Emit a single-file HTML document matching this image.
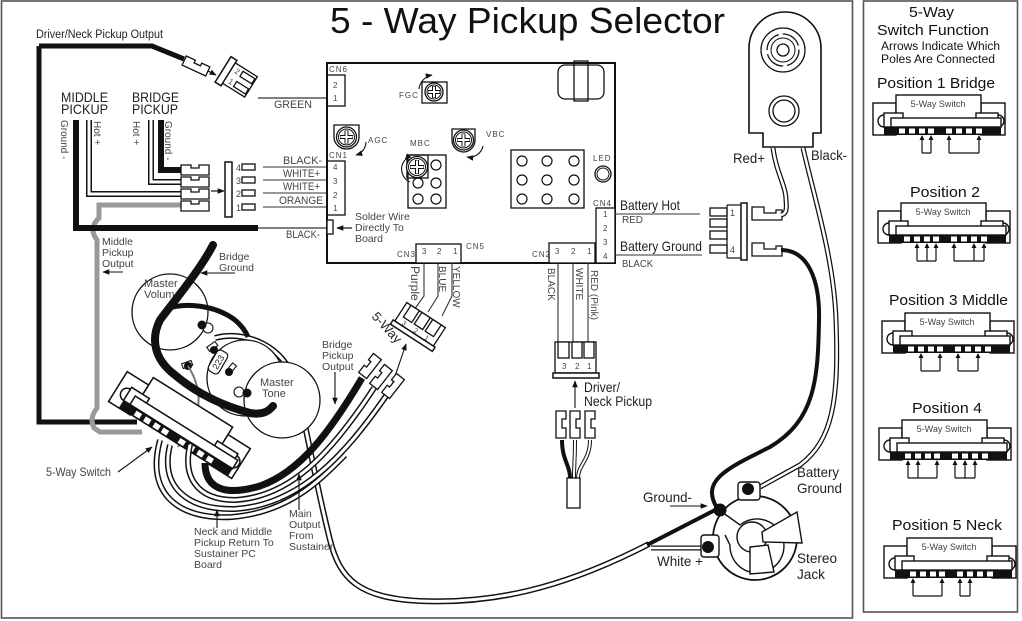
<!DOCTYPE html>
<html><head><meta charset="utf-8">
<style>
html,body{margin:0;padding:0;background:#fff;}
svg{display:block;font-family:"Liberation Sans",Arial,sans-serif;}
.k{fill:none;stroke:#111;}
.wo{fill:none;stroke:#111;stroke-width:6;stroke-linecap:butt;}
.wi{fill:none;stroke:#fff;stroke-width:3;}
.t{fill:#222;}
.g{fill:#444;}
</style></head><body>
<svg width="1022" height="621" viewBox="0 0 1022 621" xmlns="http://www.w3.org/2000/svg">
<defs>
<marker id="ah" viewBox="0 0 10 10" refX="9" refY="5" markerWidth="7" markerHeight="7" orient="auto" markerUnits="userSpaceOnUse"><path d="M0,1 L10,5 L0,9 z" fill="#111"/></marker>
<g id="sw">
<rect x="2" y="8" width="23" height="32" fill="#fff" stroke="#111" stroke-width="1.4"/>
<rect x="110" y="8" width="24" height="32" fill="#fff" stroke="#111" stroke-width="1.4"/>
<rect x="25" y="0" width="85" height="24" fill="#fff" stroke="#111" stroke-width="1.4"/>
<path d="M13,20 A6,6 0 0 0 13,32" fill="#fff" stroke="#111" stroke-width="1.4"/>
<path d="M127,20 A6,6 0 0 1 127,32" fill="#fff" stroke="#111" stroke-width="1.4"/>
<rect x="13" y="18" width="19" height="14" fill="#fff" stroke="#111" stroke-width="1.4"/>
<rect x="105" y="18" width="22" height="14" fill="#fff" stroke="#111" stroke-width="1.4"/>
<rect x="20" y="23" width="110" height="9" fill="#fff" stroke="#111" stroke-width="1.4"/>
<rect x="13" y="32" width="117" height="8" fill="#111"/>
<g fill="#fff"><rect x="28" y="33.5" width="6" height="5"/><rect x="38" y="33.5" width="6" height="5"/><rect x="48" y="33.5" width="6" height="5"/><rect x="57" y="33.5" width="6" height="5"/><rect x="75" y="33.5" width="6" height="5"/><rect x="85" y="33.5" width="6" height="5"/><rect x="95" y="33.5" width="6" height="5"/><rect x="105" y="33.5" width="6" height="5"/></g>
</g>
</defs>

<!-- frames -->
<rect x="1.5" y="1" width="851" height="617" fill="none" stroke="#555" stroke-width="1.6"/>
<rect x="863.5" y="1" width="154" height="611" fill="none" stroke="#555" stroke-width="1.6"/>

<!-- title -->
<text x="330" y="33" font-size="36" textLength="395" lengthAdjust="spacingAndGlyphs" fill="#111">5 - Way Pickup Selector</text>

<!-- ===== RIGHT PANEL ===== -->
<g fill="#111">
<text x="909" y="17" font-size="15" textLength="45" lengthAdjust="spacingAndGlyphs">5-Way</text>
<text x="877" y="35" font-size="15" textLength="112" lengthAdjust="spacingAndGlyphs">Switch Function</text>
<text x="881" y="50" font-size="11.5" textLength="119" lengthAdjust="spacingAndGlyphs">Arrows Indicate Which</text>
<text x="881" y="63" font-size="11.5" textLength="114" lengthAdjust="spacingAndGlyphs">Poles Are Connected</text>
<text x="877" y="88" font-size="14.5" textLength="118" lengthAdjust="spacingAndGlyphs">Position 1 Bridge</text>
<text x="910" y="197" font-size="14.5" textLength="70" lengthAdjust="spacingAndGlyphs">Position 2</text>
<text x="889" y="305" font-size="14.5" textLength="119" lengthAdjust="spacingAndGlyphs">Position 3 Middle</text>
<text x="912" y="413" font-size="14.5" textLength="70" lengthAdjust="spacingAndGlyphs">Position 4</text>
<text x="892" y="530" font-size="14.5" textLength="110" lengthAdjust="spacingAndGlyphs">Position 5 Neck</text>
</g>

<!-- Pos1 -->
<g transform="translate(871,95)">
<use href="#sw"/>
<text x="67" y="12" font-size="9" text-anchor="middle" class="g">5-Way Switch</text>
<g stroke="#111" stroke-width="1.2" fill="none"><path d="M51,58 V42 M60,58 V42 M51,58 H60 M78,58 V42 M108,58 V42 M78,58 H108"/></g>
<g fill="#111"><path d="M51,40 l-2.5,5 h5z M60,40 l-2.5,5 h5z M78,40 l-2.5,5 h5z M108,40 l-2.5,5 h5z"/></g>
</g>
<!-- Pos2 -->
<g transform="translate(876,203)">
<use href="#sw"/>
<text x="67" y="12" font-size="9" text-anchor="middle" class="g">5-Way Switch</text>
<g stroke="#111" stroke-width="1.2" fill="none"><path d="M41,58 V42 M51,58 V42 M60,58 V42 M41,58 H60 M78,58 V42 M98,58 V42 M108,58 V42 M78,58 H108"/></g>
<g fill="#111"><path d="M41,40 l-2.5,5 h5z M51,40 l-2.5,5 h5z M60,40 l-2.5,5 h5z M78,40 l-2.5,5 h5z M98,40 l-2.5,5 h5z M108,40 l-2.5,5 h5z"/></g>
</g>
<!-- Pos3 -->
<g transform="translate(880,313)">
<use href="#sw"/>
<text x="67" y="12" font-size="9" text-anchor="middle" class="g">5-Way Switch</text>
<g stroke="#111" stroke-width="1.2" fill="none"><path d="M41,58 V42 M60,58 V42 M41,58 H60 M78,58 V42 M98,58 V42 M78,58 H98"/></g>
<g fill="#111"><path d="M41,40 l-2.5,5 h5z M60,40 l-2.5,5 h5z M78,40 l-2.5,5 h5z M98,40 l-2.5,5 h5z"/></g>
</g>
<!-- Pos4 -->
<g transform="translate(877,420)">
<use href="#sw"/>
<text x="67" y="12" font-size="9" text-anchor="middle" class="g">5-Way Switch</text>
<g stroke="#111" stroke-width="1.2" fill="none"><path d="M31,58 V42 M41,58 V42 M60,58 V42 M31,58 H60 M78,58 V42 M88,58 V42 M98,58 V42 M78,58 H98"/></g>
<g fill="#111"><path d="M31,40 l-2.5,5 h5z M41,40 l-2.5,5 h5z M60,40 l-2.5,5 h5z M78,40 l-2.5,5 h5z M88,40 l-2.5,5 h5z M98,40 l-2.5,5 h5z"/></g>
</g>
<!-- Pos5 -->
<g transform="translate(882,538)">
<use href="#sw"/>
<text x="67" y="12" font-size="9" text-anchor="middle" class="g">5-Way Switch</text>
<g stroke="#111" stroke-width="1.2" fill="none"><path d="M31,58 V42 M60,58 V42 M31,58 H60 M78,58 V42 M88,58 V42 M78,58 H88"/></g>
<g fill="#111"><path d="M31,40 l-2.5,5 h5z M60,40 l-2.5,5 h5z M78,40 l-2.5,5 h5z M88,40 l-2.5,5 h5z"/></g>
</g>

<!-- ===== MAIN: top-left ===== -->
<text x="36" y="38" font-size="11.5" textLength="127" lengthAdjust="spacingAndGlyphs" class="t">Driver/Neck Pickup Output</text>
<path d="M39,46 V422 H137" fill="none" stroke="#111" stroke-width="5"/>
<path d="M39,46 H152 L184,59" fill="none" stroke="#111" stroke-width="5"/>
<!-- terminal to CN6 plug -->
<g transform="translate(196,66) rotate(25)">
<path d="M-13,-5 H-3 V-2 H4 V-5 H13 V5 H-13 Z" fill="#fff" stroke="#111" stroke-width="1.3"/>
</g>
<path d="M208,71 L216,75" stroke="#111" stroke-width="1.2" marker-end="url(#ah)"/>
<g transform="translate(240,80) rotate(32)">
<rect x="-20" y="-15" width="7" height="30" fill="#fff" stroke="#111" stroke-width="1.5"/>
<rect x="-13" y="-12" width="26" height="24" fill="#fff" stroke="#111" stroke-width="1.3"/>
<rect x="-2" y="-9" width="14" height="6" fill="#fff" stroke="#111" stroke-width="1.3"/>
<rect x="-2" y="3" width="14" height="6" fill="#fff" stroke="#111" stroke-width="1.3"/>
<text x="-9" y="-3" font-size="8" class="g">2</text>
<text x="-9" y="9" font-size="8" class="g">1</text>
</g>
<line x1="258" y1="98" x2="327" y2="98" stroke="#333" stroke-width="1.2"/>
<text x="274" y="108" font-size="11" textLength="38" lengthAdjust="spacingAndGlyphs" class="g">GREEN</text>

<!-- pickup labels -->
<g class="t" font-size="14">
<text x="61" y="102" textLength="47" lengthAdjust="spacingAndGlyphs">MIDDLE</text>
<text x="61" y="114" textLength="47" lengthAdjust="spacingAndGlyphs">PICKUP</text>
<text x="132" y="102" textLength="47" lengthAdjust="spacingAndGlyphs">BRIDGE</text>
<text x="132" y="114" textLength="46" lengthAdjust="spacingAndGlyphs">PICKUP</text>
</g>
<g class="g" font-size="10">
<text transform="translate(61,120) rotate(90)">Ground -</text>
<text transform="translate(94,121) rotate(90)">Hot +</text>
<text transform="translate(133,121) rotate(90)">Hot +</text>
<text transform="translate(165,121) rotate(90)">Ground -</text>
</g>

<!-- gray middle pickup output -->
<path d="M181,205 H99 V218 Q88,228 97,240 V408 Q89,418 94,428 L100,432 H142" fill="none" stroke="#999" stroke-width="5"/>
<!-- middle ground black -->
<path d="M76,120 V228 H258" fill="none" stroke="#111" stroke-width="6"/>
<line x1="258" y1="228" x2="327" y2="228" stroke="#333" stroke-width="1.2"/>
<!-- middle hot -->
<path class="wo" d="M89,120 V194 H181"/><path class="wi" d="M89,120 V194 H181"/>
<!-- bridge hot -->
<path class="wo" d="M151,120 V182 H181"/><path class="wi" d="M151,120 V182 H181"/>
<!-- bridge ground -->
<path d="M161,120 V170 H181" fill="none" stroke="#111" stroke-width="6"/>
<!-- 4 terminals -->
<g fill="#fff" stroke="#111" stroke-width="1.3">
<path d="M181,165 H191 V168 H199 V165 H209 V175 H181 Z"/>
<path d="M181,177 H191 V180 H199 V177 H209 V187 H181 Z"/>
<path d="M181,189 H191 V192 H199 V189 H209 V199 H181 Z"/>
<path d="M181,201 H191 V204 H199 V201 H209 V211 H181 Z"/>
</g>
<path d="M211,191 H224" stroke="#111" stroke-width="1.2" marker-end="url(#ah)"/>
<!-- CN1 plug -->
<rect x="225" y="162" width="7" height="55" fill="#fff" stroke="#111" stroke-width="1.5"/>
<line x1="232" y1="162" x2="232" y2="217" stroke="#111"/>
<g fill="#fff" stroke="#111" stroke-width="1.3">
<rect x="242" y="164" width="13" height="6"/><rect x="242" y="177" width="13" height="6"/><rect x="242" y="190" width="13" height="6"/><rect x="242" y="204" width="13" height="6"/>
</g>
<g class="g" font-size="9"><text x="236" y="171">4</text><text x="236" y="184">3</text><text x="236" y="197">2</text><text x="236" y="211">1</text></g>
<g stroke="#333" stroke-width="1.1"><line x1="263" y1="167" x2="327" y2="167"/><line x1="263" y1="180" x2="327" y2="180"/><line x1="263" y1="193" x2="327" y2="193"/><line x1="263" y1="207" x2="327" y2="207"/></g>
<g class="g" font-size="11">
<text x="283" y="164" textLength="39" lengthAdjust="spacingAndGlyphs">BLACK-</text>
<text x="283" y="177" textLength="37" lengthAdjust="spacingAndGlyphs">WHITE+</text>
<text x="283" y="190" textLength="37" lengthAdjust="spacingAndGlyphs">WHITE+</text>
<text x="279" y="204" textLength="44" lengthAdjust="spacingAndGlyphs">ORANGE</text>
<text x="286" y="238" textLength="34" lengthAdjust="spacingAndGlyphs">BLACK-</text>
</g>

<!-- ===== BOARD ===== -->
<rect x="327" y="63" width="288" height="200" fill="#fff" stroke="#111" stroke-width="2"/>
<g class="g" font-size="8" letter-spacing="1">
<text x="329" y="72">CN6</text><text x="329" y="158">CN1</text>
<text x="397" y="257">CN3</text><text x="466" y="249">CN5</text>
<text x="532" y="257">CN2</text><text x="593" y="206">CN4</text>
<text x="593" y="161">LED</text>
<text x="399" y="98">FGC</text><text x="368" y="143">AGC</text><text x="410" y="146">MBC</text><text x="486" y="137">VBC</text>
</g>
<rect x="327" y="75" width="18" height="31" fill="none" stroke="#111" stroke-width="1.3"/>
<g class="g" font-size="8"><text x="333" y="88">2</text><text x="333" y="101">1</text></g>
<rect x="327" y="161" width="18" height="54" fill="none" stroke="#111" stroke-width="1.3"/>
<g class="g" font-size="8"><text x="333" y="170">4</text><text x="333" y="184">3</text><text x="333" y="198">2</text><text x="333" y="211">1</text></g>
<rect x="327" y="220" width="6" height="14" fill="#fff" stroke="#111" stroke-width="1.3"/>
<path d="M352,228 H337" stroke="#111" stroke-width="1.2" marker-end="url(#ah)"/>
<g class="g" font-size="10.5"><text x="355" y="220">Solder Wire</text><text x="355" y="231">Directly To</text><text x="355" y="242">Board</text></g>

<!-- FGC -->
<rect x="422" y="82" width="25" height="21" fill="#fff" stroke="#111" stroke-width="1.3"/>
<circle cx="434" cy="92" r="9" fill="#fff" stroke="#111" stroke-width="1.3"/><circle cx="434" cy="92" r="7" fill="none" stroke="#111"/>
<path d="M428,92 H440 M434,86 V98" stroke="#111" stroke-width="4"/><path d="M428.5,92 H439.5 M434,86.5 V97.5" stroke="#fff" stroke-width="2"/>
<path d="M419,89 A16,16 0 0 1 432,75" fill="none" stroke="#111" stroke-width="1.1" marker-end="url(#ah)"/>
<!-- AGC -->
<path d="M334,125 H359 V137 A12.5,12 0 0 1 334,137 Z" fill="#fff" stroke="#111" stroke-width="1.3"/>
<circle cx="346.5" cy="137" r="10" fill="#fff" stroke="#111" stroke-width="1.3"/><circle cx="346.5" cy="137" r="8" fill="none" stroke="#111"/>
<path d="M340,137 H353 M346.5,130.5 V143.5" stroke="#111" stroke-width="4"/><path d="M340.5,137 H352.5 M346.5,131 V143" stroke="#fff" stroke-width="2"/>
<path d="M366,142 A14,14 0 0 1 356,155" fill="none" stroke="#111" stroke-width="1.1" marker-end="url(#ah)"/>
<!-- MBC -->
<rect x="408" y="155" width="38" height="53" fill="#fff" stroke="#111" stroke-width="1.3"/>
<g fill="#fff" stroke="#111" stroke-width="1.2"><circle cx="418" cy="183" r="5"/><circle cx="418" cy="199" r="5"/><circle cx="436" cy="165" r="5"/><circle cx="436" cy="183" r="5"/><circle cx="436" cy="199" r="5"/></g>
<rect x="407" y="155" width="21" height="23" fill="none" stroke="#111" stroke-width="1.3"/>
<circle cx="417" cy="167" r="10.5" fill="#fff" stroke="#111" stroke-width="1.3"/><circle cx="417" cy="167" r="8.5" fill="none" stroke="#111"/>
<path d="M410,167 H424 M417,160 V174" stroke="#111" stroke-width="4"/><path d="M410.5,167 H423.5 M417,160.5 V173.5" stroke="#fff" stroke-width="2"/>
<path d="M405,160 A14,14 0 0 0 410,182" fill="none" stroke="#111" stroke-width="1.1" marker-start="url(#ah)"/>
<!-- VBC -->
<path d="M452,129 H475 V140 A11.5,12 0 0 1 452,140 Z" fill="#fff" stroke="#111" stroke-width="1.3"/>
<circle cx="463.5" cy="140" r="10" fill="#fff" stroke="#111" stroke-width="1.3"/><circle cx="463.5" cy="140" r="8" fill="none" stroke="#111"/>
<path d="M457,140 H470 M463.5,133.5 V146.5" stroke="#111" stroke-width="4"/><path d="M457.5,140 H469.5 M463.5,134 V146" stroke="#fff" stroke-width="2"/>
<path d="M483,146 A14,14 0 0 1 467,157" fill="none" stroke="#111" stroke-width="1.1" marker-end="url(#ah)"/>
<!-- big grid -->
<rect x="511" y="150" width="73" height="58" fill="#fff" stroke="#111" stroke-width="1.3"/>
<g fill="#fff" stroke="#111" stroke-width="1.2">
<circle cx="522" cy="161" r="5"/><circle cx="547" cy="161" r="5"/><circle cx="574" cy="161" r="5"/>
<circle cx="522" cy="180" r="5"/><circle cx="547" cy="180" r="5"/><circle cx="574" cy="180" r="5"/>
<circle cx="522" cy="199" r="5"/><circle cx="547" cy="199" r="5"/><circle cx="574" cy="199" r="5"/>
</g>
<!-- LED -->
<circle cx="603" cy="174" r="8" fill="#fff" stroke="#111" stroke-width="1.3"/><circle cx="603" cy="174" r="6" fill="none" stroke="#111"/>
<!-- top right component -->
<rect x="558" y="65" width="46" height="34" rx="7" fill="#fff" stroke="#111" stroke-width="1.3"/>
<rect x="574" y="61" width="14" height="40" fill="none" stroke="#111" stroke-width="1.3"/>
<!-- CN3/5 -->
<rect x="416" y="244" width="45" height="19" fill="#fff" stroke="#111" stroke-width="1.3"/>
<g class="g" font-size="8"><text x="422" y="254">3</text><text x="437" y="254">2</text><text x="453" y="254">1</text></g>
<!-- CN2 -->
<rect x="549" y="243" width="46" height="20" fill="#fff" stroke="#111" stroke-width="1.3"/>
<g class="g" font-size="8"><text x="555" y="254">3</text><text x="571" y="254">2</text><text x="587" y="254">1</text></g>
<!-- CN4 -->
<rect x="596" y="208" width="19" height="55" fill="#fff" stroke="#111" stroke-width="1.3"/>
<g class="g" font-size="8"><text x="603" y="217">1</text><text x="603" y="231">2</text><text x="603" y="245">3</text><text x="603" y="259">4</text></g>

<!-- battery hot/ground labels -->
<line x1="615" y1="214" x2="700" y2="214" stroke="#333" stroke-width="1.1"/>
<line x1="615" y1="255" x2="702" y2="255" stroke="#333" stroke-width="1.1"/>
<g class="t" font-size="14">
<text x="620" y="210" textLength="60" lengthAdjust="spacingAndGlyphs">Battery Hot</text>
<text x="620" y="251" textLength="82" lengthAdjust="spacingAndGlyphs">Battery Ground</text>
</g>
<g class="g" font-size="10"><text x="622" y="223" textLength="21" lengthAdjust="spacingAndGlyphs">RED</text><text x="622" y="267" textLength="31" lengthAdjust="spacingAndGlyphs">BLACK</text></g>
<!-- battery plug -->
<g fill="#fff" stroke="#111" stroke-width="1.3">
<rect x="710" y="208" width="17" height="8"/><rect x="710" y="219" width="17" height="8"/><rect x="710" y="231" width="17" height="8"/><rect x="710" y="245" width="17" height="8"/>
<rect x="741" y="203" width="6" height="57" stroke-width="1.5"/>
</g>
<line x1="727" y1="205" x2="727" y2="258" stroke="#111" stroke-width="1.2"/>
<line x1="727" y1="205" x2="741" y2="205" stroke="#111" stroke-width="1.2"/>
<line x1="727" y1="258" x2="741" y2="258" stroke="#111" stroke-width="1.2"/>
<g class="g" font-size="9"><text x="730" y="216">1</text><text x="730" y="253">4</text></g>
<g fill="#fff" stroke="#111" stroke-width="1.3">
<path d="M752,207 H764 V213 H776 V210 H782 V220 H752 Z"/>
<path d="M752,243 H764 V249 H776 V246 H782 V256 H752 Z"/>
</g>

<!-- battery clip -->
<path d="M749,133 V48 A36,36 0 0 1 821,48 V133 H813 V147 H763 V133 Z" fill="#fff" stroke="#111" stroke-width="1.6"/>
<circle cx="783" cy="50" r="22" fill="#fff" stroke="#111" stroke-width="1.3"/>
<circle cx="783" cy="50" r="16" fill="none" stroke="#111" stroke-width="1.3" stroke-dasharray="21 4"/>
<circle cx="783" cy="50" r="12" fill="none" stroke="#111" stroke-width="1"/>
<circle cx="783" cy="50" r="6" fill="#fff" stroke="#111" stroke-width="1.3"/>
<circle cx="784" cy="111" r="15" fill="#fff" stroke="#111" stroke-width="1.3"/>
<circle cx="784" cy="111" r="11" fill="none" stroke="#111" stroke-width="1.3"/>
<!-- red+ wire -->
<path class="wo" style="stroke-width:5" d="M773,148 C776,172 786,186 786,200 C787,210 786,214 781,215"/>
<path class="wi" style="stroke-width:2.5" d="M773,148 C776,172 786,186 786,200 C787,210 786,214 781,215"/>
<!-- black- wire (white double) -->
<path class="wo" style="stroke-width:5" d="M803,148 C815,200 834,260 836,320 C839,400 833,440 800,465 L760,487"/>
<path class="wi" style="stroke-width:2.5" d="M803,148 C815,200 834,260 836,320 C839,400 833,440 800,465 L760,487"/>
<g class="t" font-size="14">
<text x="733" y="163" textLength="32" lengthAdjust="spacingAndGlyphs">Red+</text>
<text x="811" y="160" textLength="36" lengthAdjust="spacingAndGlyphs">Black-</text>
</g>
<!-- black thick wire to jack ground -->
<path d="M781,250 C808,250 820,280 819,320 C818,380 815,420 770,447 C728,468 700,480 717,508" fill="none" stroke="#111" stroke-width="4"/>

<!-- main output white wire -->
<path class="wo" d="M215,338 C245,330 285,345 296,385 C305,420 315,480 330,540 C340,580 360,598 420,601 C490,604 560,590 649,544"/>
<path class="wi" d="M215,338 C245,330 285,345 296,385 C305,420 315,480 330,540 C340,580 360,598 420,601 C490,604 560,590 649,544"/>
<path d="M647,545 L719,508" stroke="#111" stroke-width="4"/>
<path class="wo" style="stroke-width:5" d="M651,548 H705"/><path class="wi" style="stroke-width:2.5" d="M651,548 H705"/>

<!-- stereo jack -->
<circle cx="755" cy="538" r="42" fill="#fff" stroke="#111" stroke-width="1.8"/>
<path d="M722,512 L740,525 A27,27 0 1 1 730,545 L725,535" fill="none" stroke="#111" stroke-width="1.4"/>
<circle cx="752" cy="537" r="15" fill="#fff" stroke="#111" stroke-width="1.4"/>
<polygon points="762,532 797,512 802,543 763,542" fill="#fff" stroke="#111" stroke-width="1.4"/>
<polygon points="750,547 768,545 774,572 750,574" fill="#fff" stroke="#111" stroke-width="1.4"/>
<rect x="738" y="482" width="22" height="18" rx="3" fill="#fff" stroke="#111" stroke-width="1.4"/>
<circle cx="748" cy="489" r="6" fill="#111"/>
<rect x="701" y="535" width="18" height="22" rx="3" fill="#fff" stroke="#111" stroke-width="1.4"/>
<circle cx="708" cy="547" r="6" fill="#111"/>
<circle cx="720" cy="510" r="6.5" fill="#111"/>
<g class="t" font-size="14">
<text x="643" y="502" textLength="49" lengthAdjust="spacingAndGlyphs">Ground-</text>
<text x="657" y="566" textLength="46" lengthAdjust="spacingAndGlyphs">White +</text>
<text x="797" y="477" textLength="42" lengthAdjust="spacingAndGlyphs">Battery</text>
<text x="797" y="493" textLength="45" lengthAdjust="spacingAndGlyphs">Ground</text>
<text x="797" y="563" textLength="40" lengthAdjust="spacingAndGlyphs">Stereo</text>
<text x="797" y="579" textLength="28" lengthAdjust="spacingAndGlyphs">Jack</text>
</g>
<path d="M670,506 H707" stroke="#111" stroke-width="1.1" marker-end="url(#ah)"/>

<!-- CN3 wires -->
<g stroke="#333" stroke-width="1.1" fill="none">
<path d="M424,263 V296 L414,310"/><path d="M438,263 V296 L428,312"/><path d="M452,263 V296 L442,316"/>
</g>
<g class="g" font-size="10">
<text transform="translate(411,266) rotate(90)" font-size="12">Purple</text>
<text transform="translate(439,266) rotate(90)">BLUE</text>
<text transform="translate(453,266) rotate(90)">YELLOW</text>
</g>
<!-- 5-way connector -->
<g transform="translate(419,326) rotate(33)">
<rect x="-23" y="-13" width="46" height="22" fill="#fff" stroke="#111" stroke-width="1.3"/>
<rect x="-25" y="9" width="50" height="5" fill="#fff" stroke="#111" stroke-width="1.5"/>
<g fill="#fff" stroke="#111" stroke-width="1.3"><rect x="-18" y="-13" width="10" height="14"/><rect x="-5" y="-13" width="10" height="14"/><rect x="8" y="-13" width="10" height="14"/></g>
<g class="g" font-size="7"><text x="-16" y="8">3</text><text x="-2" y="8">2</text><text x="11" y="8">1</text></g>
</g>
<text transform="translate(371,317) rotate(47)" font-size="13" class="t">5-Way</text>
<path d="M390,391 L406,344" stroke="#111" stroke-width="1.1" marker-end="url(#ah)"/>

<!-- CN2 wires + driver plug -->
<g stroke="#333" stroke-width="1.1"><line x1="558" y1="263" x2="558" y2="342"/><line x1="573" y1="263" x2="573" y2="342"/><line x1="588" y1="263" x2="588" y2="342"/></g>
<g class="g" font-size="10">
<text transform="translate(548,268) rotate(90)">BLACK</text>
<text transform="translate(576,268) rotate(90)">WHITE</text>
<text transform="translate(591,270) rotate(90)">RED (Pink)</text>
</g>
<rect x="555" y="342" width="41" height="31" fill="#fff" stroke="#111" stroke-width="1.3"/>
<g fill="#fff" stroke="#111" stroke-width="1.3"><rect x="558" y="342" width="11" height="16"/><rect x="572" y="342" width="10" height="16"/><rect x="584" y="342" width="10" height="16"/></g>
<g class="g" font-size="8"><text x="562" y="369">3</text><text x="575" y="369">2</text><text x="587" y="369">1</text></g>
<rect x="553" y="373" width="46" height="5" fill="#fff" stroke="#111" stroke-width="1.5"/>
<path d="M575,408 V381" stroke="#111" stroke-width="1.1" marker-end="url(#ah)"/>
<g class="t" font-size="14"><text x="584" y="392" textLength="36" lengthAdjust="spacingAndGlyphs">Driver/</text><text x="584" y="406" textLength="68" lengthAdjust="spacingAndGlyphs">Neck Pickup</text></g>
<!-- driver wires -->
<path d="M562,440 C562,460 570,465 570,478" fill="none" stroke="#111" stroke-width="4"/>
<path class="wo" style="stroke-width:4" d="M575,440 C575,460 574,465 574,478"/><path class="wi" style="stroke-width:2" d="M575,440 C575,460 574,465 574,478"/>
<path class="wo" style="stroke-width:4" d="M590,440 C590,460 578,465 578,478"/><path class="wi" style="stroke-width:2" d="M590,440 C590,460 578,465 578,478"/>
<rect x="567" y="478" width="13" height="30" fill="#fff" stroke="#111" stroke-width="1.3"/>
<g fill="#fff" stroke="#111" stroke-width="1.3">
<path d="M556,411 H566 V419 H562 V428 H566 V438 H556 Z"/>
<path d="M570,411 H580 V419 H576 V428 H580 V438 H570 Z"/>
<path d="M585,411 H595 V419 H591 V428 H595 V438 H585 Z"/>
</g>

<!-- ===== LOWER LEFT: pots, switch, wires ===== -->
<circle cx="245" cy="378" r="38" fill="#fff" stroke="#111" stroke-width="1.3"/>
<circle cx="170" cy="312" r="38" fill="none" stroke="#111" stroke-width="1.3"/>
<circle cx="282" cy="400" r="38" fill="#fff" stroke="#111" stroke-width="1.3"/>
<g class="g" font-size="11">
<text x="144" y="287">Master</text><text x="144" y="298">Volume</text>
<text x="260" y="386">Master</text><text x="262" y="397">Tone</text>
</g>
<!-- lugs -->
<g fill="#fff" stroke="#111" stroke-width="1.1">
<circle cx="208" cy="328" r="5"/>
<circle cx="239" cy="392" r="5"/>
<rect x="207" y="344" width="10" height="5" transform="rotate(-35 212 346)"/>
<rect x="182" y="362" width="10" height="5" transform="rotate(-20 187 364)"/>
<rect x="226" y="366" width="10" height="5" transform="rotate(-50 231 368)"/>
</g>
<g fill="#111"><circle cx="202" cy="325" r="4.5"/><circle cx="214" cy="350" r="4"/><circle cx="188" cy="366" r="4"/><circle cx="229" cy="372" r="4"/><circle cx="247" cy="393" r="4.5"/></g>
<g transform="translate(218,362) rotate(-60)">
<rect x="-12" y="-6" width="24" height="12" rx="4" fill="#fff" stroke="#111" stroke-width="1.2"/>
<text x="0" y="3.5" font-size="9" text-anchor="middle" class="t">223</text>
</g>
<!-- gray thin wire -->
<path d="M188,366 C200,385 202,405 193,420 C188,430 182,438 178,447" fill="none" stroke="#777" stroke-width="2"/>

<!-- 5-way switch (main) -->
<use href="#sw" transform="translate(130,363) rotate(32) scale(1.1)"/>

<!-- bundle wires -->
<path class="wo" d="M160,440 C145,495 180,520 232,517 C290,512 320,480 345,455"/>
<path class="wi" d="M160,440 C145,495 180,520 232,517 C290,512 320,480 345,455"/>
<path class="wo" d="M170,445 C160,485 185,510 235,509 C300,505 345,455 386,396"/>
<path class="wi" d="M170,445 C160,485 185,510 235,509 C300,505 345,455 386,396"/>
<path class="wo" d="M190,445 C183,475 195,500 235,500 C290,497 330,455 374,388"/>
<path class="wi" d="M190,445 C183,475 195,500 235,500 C290,497 330,455 374,388"/>
<path d="M205,463 C205,492 230,495 260,486 C300,472 330,432 362,378" fill="none" stroke="#111" stroke-width="7"/>
<!-- 5-way terminals -->
<g fill="#fff" stroke="#111" stroke-width="1.3">
<g transform="translate(370,366) rotate(-52)"><path d="M-12,-5 H-3 V-2 H4 V-5 H12 V5 H-12 Z"/></g>
<g transform="translate(381,377) rotate(-52)"><path d="M-12,-5 H-3 V-2 H4 V-5 H12 V5 H-12 Z"/></g>
<g transform="translate(393,386) rotate(-52)"><path d="M-12,-5 H-3 V-2 H4 V-5 H12 V5 H-12 Z"/></g>
</g>

<!-- bridge ground black -->
<path d="M213,245 C200,270 175,300 160,320 C150,340 155,360 175,375 C195,392 220,405 250,413 C262,415 268,412 273,406" fill="none" stroke="#111" stroke-width="8" stroke-linecap="round"/>
<path d="M166,309 C185,302 215,305 235,320 C242,326 246,332 248,337" fill="none" stroke="#111" stroke-width="5"/>

<!-- labels lower-left -->
<g class="g" font-size="10.5">
<text x="102" y="245">Middle</text><text x="102" y="256">Pickup</text><text x="102" y="267">Output</text>
<text x="219" y="260">Bridge</text><text x="219" y="271">Ground</text>
<text x="322" y="348">Bridge</text><text x="322" y="359">Pickup</text><text x="322" y="370">Output</text>
<text x="194" y="535">Neck and Middle</text><text x="194" y="546">Pickup Return To</text><text x="194" y="557">Sustainer PC</text><text x="194" y="568">Board</text>
<text x="289" y="517">Main</text><text x="289" y="528">Output</text><text x="289" y="539">From</text><text x="289" y="550">Sustainer</text>
</g>
<text x="46" y="476" font-size="12" class="g" textLength="65" lengthAdjust="spacingAndGlyphs">5-Way Switch</text>
<g stroke="#111" stroke-width="1.1">
<path d="M123,272 H103" marker-end="url(#ah)"/>
<path d="M235,273 H201" marker-end="url(#ah)"/>
<path d="M335,372 V404" marker-end="url(#ah)"/>
<path d="M118,472 L152,447" marker-end="url(#ah)"/>
<path d="M217,528 V510" marker-end="url(#ah)"/>
<path d="M299,510 V474" marker-end="url(#ah)"/>
</g>
</svg>
</body></html>
